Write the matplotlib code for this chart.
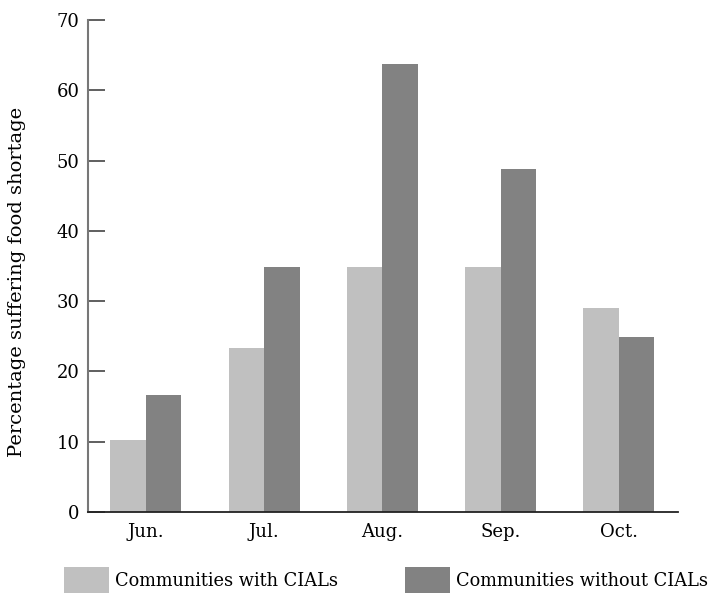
import matplotlib
matplotlib.use("Agg")
import matplotlib.pyplot as plt
import numpy as np

months = ["Jun.", "Jul.", "Aug.", "Sep.", "Oct."]
with_cials = [10.3, 23.4, 34.8, 34.8, 29.0]
without_cials = [16.7, 34.8, 63.7, 48.8, 24.9]
series_names = ["Communities with CIALs", "Communities without CIALs"]
yticks = [0, 10, 20, 30, 40, 50, 60, 70]

plt.rcParams['font.family'] = ['DejaVu Serif']
plt.rcParams['font.size'] = 13

fig = plt.figure(figsize=(7.2, 5.93), dpi=100)
ax = fig.add_axes([88 / 720, 81 / 593, 590 / 720, 492 / 593])

x = np.arange(len(months))
w = 0.3
b1 = ax.bar(x - w / 2, with_cials, w, color='#c0c0c0', label=series_names[0])
b2 = ax.bar(x + w / 2, without_cials, w, color='#828282', label=series_names[1])

ax.set_xlim(-0.49, 4.5)
ax.set_ylim(0, 70)
ax.set_yticks(yticks)
ax.set_xticks(x)
ax.set_xticklabels(months)

ax.spines['top'].set_visible(False)
ax.spines['right'].set_visible(False)
ax.spines['left'].set_color('#777777')
ax.spines['left'].set_linewidth(1.5)
ax.spines['bottom'].set_color('#222222')
ax.spines['bottom'].set_linewidth(1.3)
ax.tick_params(axis='y', direction='in', length=12, width=1.2, color='#444444', pad=6)
ax.tick_params(axis='x', length=0, pad=8)
ax.set_ylabel("Percentage suffering food shortage", fontsize=14)
ax.yaxis.set_label_coords(-0.105, 0.467)

fig.legend(handles=[b1, b2], loc='lower left', bbox_to_anchor=(64 / 720, -0.002),
           ncol=2, frameon=False, fontsize=12.8, handlelength=2.53, handleheight=1.95,
           handletextpad=0.33, columnspacing=3.8, borderaxespad=0, borderpad=0)

fig.savefig("out.png", dpi=100)
